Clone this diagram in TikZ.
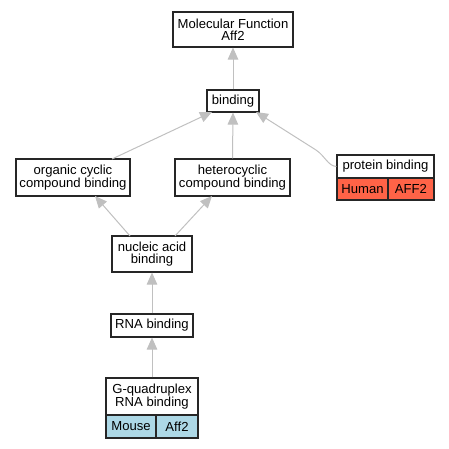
\documentclass[tikz,border=0pt]{standalone}
\usepackage{fontspec}
\setmainfont{Liberation Sans}
\usetikzlibrary{arrows.meta}
\definecolor{edgegray}{RGB}{192,192,192}
\definecolor{humanred}{RGB}{255,99,71}
\definecolor{mouseblue}{RGB}{173,216,230}
\begin{document}
\begin{tikzpicture}[x=1pt,y=-1pt,
  every node/.style={font=\fontsize{13.1}{12.4}\selectfont},
  term/.style={draw=black!85,line width=1.1pt,fill=white,inner sep=0pt,align=center},
  cell/.style={draw=black!85,line width=1.1pt,inner sep=0pt,align=center},
  edge/.style={draw=edgegray,line width=1pt,-{Triangle[length=12pt,width=10.5pt]}}]
\useasboundingbox (0,0) rectangle (449,448);
\coordinate (o1) at (112,159); \coordinate (o2) at (212,112);
\coordinate (n1) at (130,236); \coordinate (n2) at (95,196);
\coordinate (n3) at (175,236); \coordinate (n4) at (212,196);
\coordinate (p2) at (256,112);
\node[term,minimum width=120pt,minimum height=35pt] (mf) at (233,29.5) {Molecular Function\\Aff2};
\node[term,minimum width=52pt,minimum height=22pt] (b) at (233,101) {binding};
\node[term,minimum width=114pt,minimum height=37pt] (oc) at (73,177.5) {organic cyclic\\compound binding};
\node[term,minimum width=115pt,minimum height=37pt] (hc) at (232.5,177.5) {heterocyclic\\compound binding};
\node[term,minimum width=97pt,minimum height=23pt] (pb) at (385.5,166.5) {protein binding};
\node[cell,fill=humanred,minimum width=51pt,minimum height=22pt] (ph) at (362.5,189) {Human};
\node[cell,fill=humanred,minimum width=46pt,minimum height=22pt] (pa) at (411,189) {AFF2};
\node[term,minimum width=80pt,minimum height=36pt] (na) at (152,254) {nucleic acid\\binding};
\node[term,minimum width=82pt,minimum height=23pt] (rb) at (152,325.5) {RNA binding};
\node[term,minimum width=92pt,minimum height=37pt] (gq) at (152,396.5) {G-quadruplex\\RNA binding};
\node[cell,fill=mouseblue,minimum width=50pt,minimum height=23pt] (gm) at (131,426.5) {Mouse};
\node[cell,fill=mouseblue,minimum width=42pt,minimum height=23pt] (ga) at (177,426.5) {Aff2};
\draw[edge] (b.north) -- (mf.south);
\draw[edge] (o1) -- (o2);
\draw[edge] (hc.north) -- (b.south);
\draw[edge] (pb.west) .. controls (328,166) and (325,156) .. (316,150) -- (p2);
\draw[edge] (n1) -- (n2);
\draw[edge] (n3) -- (n4);
\draw[edge] (rb.north) -- (na.south);
\draw[edge] (gq.north) -- (rb.south);
\end{tikzpicture}
\end{document}
